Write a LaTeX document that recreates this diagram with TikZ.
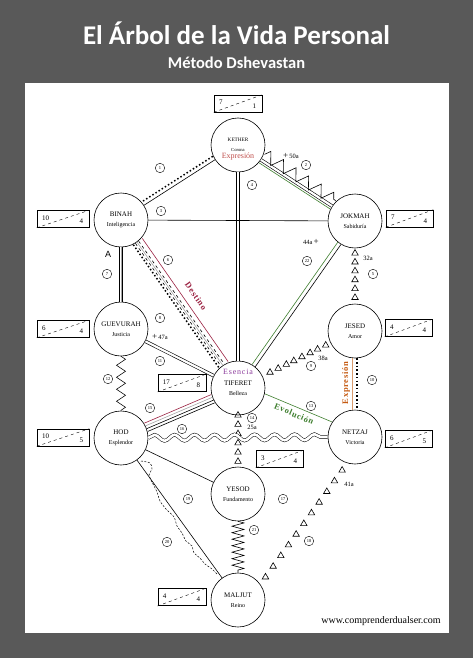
\documentclass[tikz,border=0pt]{standalone}
\usepackage{fontspec}
\setmainfont{Liberation Serif}
\newfontfamily\headfont{Carlito}
\newfontfamily\markfont{Liberation Sans}
\usepackage{tikz}
\usetikzlibrary{shapes.geometric, decorations.pathmorphing, calc}

\definecolor{bggray}{HTML}{595959}
\definecolor{destinored}{HTML}{9B2242}
\definecolor{esenciapurple}{HTML}{8B3A9B}
\definecolor{evolgreen}{HTML}{3F7F2F}
\definecolor{expreorange}{HTML}{C55A11}
\definecolor{ketherred}{HTML}{C0504D}
\definecolor{salmon}{HTML}{D99A6C}

\newcommand{\sefsub}[1]{{\fontsize{6}{9}\selectfont #1}}

\begin{document}
\begin{tikzpicture}[x=1pt, y=-1pt, line width=0.6pt,
    sefira/.style={circle, draw, minimum size=54pt, inner sep=0pt, align=center, font=\fontsize{7}{9.5}\selectfont},
    numbox/.style={draw, minimum height=17pt, inner sep=0pt},
    boxnum/.style={font=\fontsize{7}{7}\selectfont, inner sep=1pt},
    pathnum/.style={circle, draw, line width=0.4pt, minimum size=9.5pt, inner sep=0pt, font=\fontsize{4.5}{4.5}\selectfont},
    tri/.style={regular polygon, regular polygon sides=3, draw, minimum size=7.5pt, inner sep=0pt},
    dbl/.style={double, double distance=2.2pt},
    dotrow/.style={line width=1.5pt, dash pattern=on 1.5pt off 2.2pt},
    smalltxt/.style={font=\fontsize{6.5}{6.5}\selectfont, inner sep=0pt},
    pathword/.style={font=\fontsize{8.5}{8.5}\selectfont\bfseries\addfontfeature{LetterSpace=8}, inner sep=0pt}]

    \useasboundingbox (0,0) rectangle (473,658);
    \fill[bggray] (0,0) rectangle (473,658);
    \fill[white] (25,83) rectangle (449,633);

    \node[anchor=base, text=white, font=\headfont\bfseries\fontsize{27}{27}\selectfont] (title) at (236.5,44.5) {El Árbol de la Vida Personal};
    \node[anchor=base, text=white, font=\headfont\bfseries\fontsize{16.5}{16.5}\selectfont] (subtitle) at (236.5,69) {Método Dshevastan};

    \node[sefira] (kether) at (238,145) {\fontsize{5.2}{6.5}\selectfont KETHER\\\fontsize{4.6}{6}\selectfont Corona};
    \node[sefira] (binah) at (121,220) {BINAH\\\sefsub{Inteligencia}};
    \node[sefira] (jokmah) at (355,221) {JOKMAH\\\sefsub{Sabiduría}};
    \node[sefira] (guevurah) at (121,329) {GUEVURAH\\\sefsub{Justicia}};
    \node[sefira] (jesed) at (355,331) {JESED\\\sefsub{Amor}};
    \node[sefira] (tiferet) at (238,388) {TIFERET\\\sefsub{Belleza}};
    \node[sefira] (hod) at (121,438) {HOD\\\sefsub{Esplendor}};
    \node[sefira] (netzaj) at (355,437) {NETZAJ\\\sefsub{Victoria}};
    \node[sefira] (yesod) at (238,494) {YESOD\\\sefsub{Fundamento}};
    \node[sefira] (maljut) at (238,600) {MALJUT\\\sefsub{Reino}};

    \node[text=ketherred, font=\fontsize{8}{8}\selectfont, inner sep=0pt] (kexp) at (238,157) {Expresión};
    \node[text=esenciapurple, font=\fontsize{8}{8}\selectfont\addfontfeature{LetterSpace=10}, inner sep=0pt] (tesen) at (238,372) {Esencia};

    \foreach \bx/\x/\y/\w/\a/\b in {kbox/238/103.5/48/7/1, bbox/63/219/52/10/4, jbox/409.5/218.5/47/7/4,
        gbox/63/329/52/6/4, jsbox/408.5/328/47/4/4, hbox/63/437.5/52/10/5, nbox/408.5/439/47/6/5, ybox/279.5/459/47/3/4}
    {
        \node[numbox, minimum width=\w pt] (\bx) at (\x,\y) {};
        \draw[dashed, line width=0.4pt] (\bx.south west) -- (\bx.north east);
        \node[boxnum, anchor=west] (\bx-a) at ($(\bx.west)+(4,-1)$) {\a};
        \node[boxnum, anchor=east] (\bx-b) at ($(\bx.east)+(-5,2.5)$) {\b};
    }
    \foreach \bx/\x/\y/\a/\b in {tbox/182/383/17/8, mbox/182/597/4/4}
    {
        \node[numbox, minimum width=48pt, line width=1pt] (\bx) at (\x,\y) {};
        \draw[dashed, line width=0.4pt] (\bx.south west) -- (\bx.north east);
        \node[boxnum, anchor=west] (\bx-a) at ($(\bx.west)+(4,-1)$) {\a};
        \node[boxnum, anchor=east] (\bx-b) at ($(\bx.east)+(-5,2.5)$) {\b};
    }

    \draw (kether) -- (binah);
    \draw[dotrow, transform canvas={shift={(-2.2pt,3.4pt)}}] (kether) -- (binah);

    \draw[dbl] (kether) -- (jokmah);
    \draw[evolgreen, transform canvas={shift={(-1.9pt,-2.9pt)}}] (kether) -- (jokmah);
    \draw[decorate, decoration={zigzag, amplitude=6pt, segment length=15pt}, transform canvas={shift={(3.6pt,5.5pt)}}] (kether) -- (jokmah);

    \draw[dbl] (kether) -- (tiferet);
    \draw (binah) -- (jokmah);

    \draw[evolgreen, transform canvas={shift={(-1.6pt,1.1pt)}}] (jokmah) -- (tiferet);
    \draw[transform canvas={shift={(1.6pt,-1.1pt)}}] (jokmah) -- (tiferet);

    \path (jokmah) -- (jesed) foreach \p [count=\i] in {0.09,0.25,0.41,0.57,0.73,0.89} {node[tri, pos=\p] (jj\i) {}};

    \draw[dbl] (binah) -- (guevurah);
    \draw[gray!70, line width=0.5pt] (binah) -- (guevurah);

    \draw[dotrow, transform canvas={shift={(-3.3pt,-2.3pt)}}] (binah) -- (tiferet);
    \draw[dashed, transform canvas={shift={(-1.2pt,-0.9pt)}}] (binah) -- (tiferet);
    \draw[gray!70, transform canvas={shift={(0.4pt,0.3pt)}}] (binah) -- (tiferet);
    \draw[dashed, transform canvas={shift={(2pt,1.4pt)}}] (binah) -- (tiferet);
    \draw[destinored, transform canvas={shift={(5.7pt,4pt)}}] (binah) -- (tiferet);

    \draw[dbl] (guevurah) -- (tiferet);

    \path (jesed) -- (tiferet) foreach \p [count=\i] in {0.07,0.19,0.30,0.42,0.54,0.65,0.77,0.89} {node[tri, pos=\p] (jt\i) {}};

    \draw[salmon, line width=0.9pt, transform canvas={shift={(-3pt,0pt)}}] (jesed) -- (netzaj);
    \draw[dotrow, transform canvas={shift={(2pt,0pt)}}] (jesed) -- (netzaj);

    \draw[decorate, decoration={zigzag, amplitude=4.5pt, segment length=12pt}] (guevurah) -- (hod);

    \draw[evolgreen, transform canvas={shift={(2pt,4.6pt)}}] (tiferet) -- (netzaj);

    \path (tiferet) -- (yesod) foreach \p [count=\i] in {0,0.18,0.36,0.54,0.72,0.9} {node[tri, pos=\p] (ty\i) {}};

    \draw[destinored, transform canvas={shift={(-1.8pt,4.1pt)}}] (hod) -- (tiferet);
    \draw[gray!70, transform canvas={shift={(-0.6pt,1.4pt)}}] (hod) -- (tiferet);
    \draw[transform canvas={shift={(0.6pt,-1.4pt)}}] (hod) -- (tiferet);
    \draw[transform canvas={shift={(1.8pt,-4.1pt)}}] (hod) -- (tiferet);

    \draw[double, double distance=2.6pt, line width=0.5pt, decorate, decoration={snake, amplitude=3pt, segment length=20pt}] (hod) -- (netzaj);

    \draw (hod) -- (yesod);

    \path[transform canvas={shift={(7.3pt,-5.2pt)}}] (netzaj) -- (maljut) foreach \p [count=\i] in {0.05,0.14,0.23,0.32,0.41,0.50,0.59,0.68,0.77,0.86,0.95} {node[tri, pos=\p] (nm\i) {}};

    \draw[decorate, decoration={zigzag, amplitude=6pt, segment length=6.5pt}] (yesod) -- (maljut);

    \draw (hod) -- (maljut);
    \draw[line width=0.5pt, dash pattern=on 2pt off 1.5pt] plot[smooth] coordinates {(141,461) (150,463) (152,469) (149,475) (152,482) (157,492) (160,501) (166,509) (174,517) (177,526) (182,533) (186,541) (192,546) (194,553) (200,558) (205,564) (212,569) (218,575)};

    \foreach \n/\x/\y in {1/160/168, 2/306/165, 3/161/211, 4/252/185, 5/373/274, 6/168/260, 7/107/274, 8/160/318,
        9/311/366, 10/372/380, 11/160/361, 12/108/379, 13/311/406, 14/252/418, 15/150/408, 16/182/429,
        17/283/499, 18/309/541, 19/188/499, 20/167/542, 21/254/530, 22/307/261}
        \node[pathnum] (num\n) at (\x,\y) {\n};

    \node[smalltxt] (t50a) at (291,156) {{\fontsize{9}{9}\selectfont +}\,50a};
    \node[smalltxt] (t44a) at (311,242) {44a\,{\fontsize{9}{9}\selectfont +}};
    \node[smalltxt] (t47a) at (160,337) {{\fontsize{9}{9}\selectfont +}\,47a};
    \node[smalltxt] (t32a) at (368,258) {32a};
    \node[smalltxt] (t38a) at (323,358) {38a};
    \node[smalltxt] (t25a) at (252,427) {25a};
    \node[smalltxt] (t41a) at (349,484) {41a};

    \node[font=\markfont\fontsize{9}{9}\selectfont] (amark) at (108,254) {A};

    \node[pathword, text=destinored, rotate=-55] (destino) at (196,296) {Destino};
    \node[pathword, text=evolgreen, rotate=-23] (evolucion) at (294,414) {Evolución};
    \node[pathword, text=expreorange, rotate=90] (expresion) at (346,383) {Expresión};

    \node[font=\fontsize{10}{10}\selectfont, anchor=east, inner sep=0pt] (web) at (441,621) {www.comprenderdualser.com};
\end{tikzpicture}
\end{document}
